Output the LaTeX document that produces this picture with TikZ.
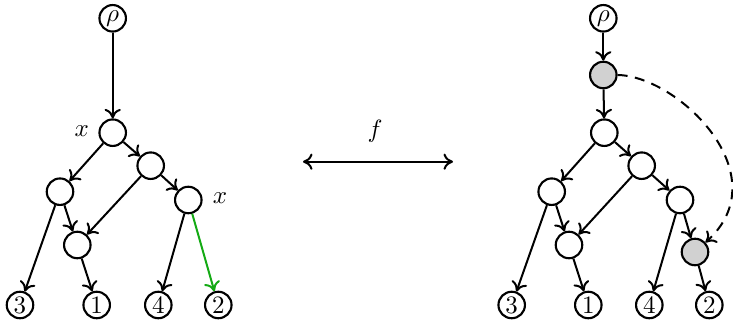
\documentclass[tikz,border=0pt]{standalone}
\usetikzlibrary{arrows.meta}
\definecolor{edgegreen}{RGB}{20,170,20}
\begin{document}
\begin{tikzpicture}[x=0.4pt,y=-0.4pt,
  vtx/.style={circle,draw,line width=0.85pt,minimum size=10.6pt,inner sep=0.5pt,fill=white},
  gvtx/.style={vtx,fill=black!18},
  arr/.style={line width=0.8pt,-{To[length=3.8pt,width=6.5pt]}},
  dbl/.style={line width=0.8pt,{To[length=3.8pt,width=6.5pt]}-{To[length=3.8pt,width=6.5pt]}}]
\useasboundingbox (0,0) rectangle (733,324);
% left tree
\node[vtx] (r) at (112.7,18.3) {$\rho$};
\node[vtx] (a) at (112.7,132.7) {};
\node[vtx] (c) at (150.7,165.7) {};
\node[vtx] (b) at (60,191.7) {};
\node[vtx] (e) at (188.3,200) {};
\node[vtx] (d) at (77.3,245) {};
\node[vtx] (l3) at (20,305) {3};
\node[vtx] (l1) at (96.7,305) {1};
\node[vtx] (l4) at (158.3,305) {4};
\node[vtx] (l2) at (218.3,305) {2};
\node (xa) at (81.7,131) {$x$};
\node (xe) at (220,198.5) {$x$};
\draw[arr] (r) -- (a);
\draw[arr] (a) -- (b);
\draw[arr] (a) -- (c);
\draw[arr] (c) -- (d);
\draw[arr] (c) -- (e);
\draw[arr] (b) -- (l3);
\draw[arr] (b) -- (d);
\draw[arr] (d) -- (l1);
\draw[arr] (e) -- (l4);
\draw[arr,edgegreen] (e) -- (l2);
% middle
\coordinate (m1) at (303,161.7);
\coordinate (m2) at (453,161.7);
\draw[dbl] (m1) -- (m2);
\node (f) at (375,131.7) {$f$};
% right tree
\node[vtx] (R) at (603.3,18.3) {$\rho$};
\node[gvtx] (g1) at (603.3,75) {};
\node[vtx] (A) at (604.3,132.7) {};
\node[vtx] (C) at (641.7,165.7) {};
\node[vtx] (B) at (551.7,191.7) {};
\node[vtx] (E) at (680,200) {};
\node[vtx] (D) at (569,245) {};
\node[gvtx] (g2) at (695,252) {};
\node[vtx] (L3) at (511.7,305) {3};
\node[vtx] (L1) at (588.3,305) {1};
\node[vtx] (L4) at (649.3,305) {4};
\node[vtx] (L2) at (709.3,305) {2};
\draw[arr] (R) -- (g1);
\draw[arr] (g1) -- (A);
\draw[arr] (A) -- (B);
\draw[arr] (A) -- (C);
\draw[arr] (C) -- (D);
\draw[arr] (C) -- (E);
\draw[arr] (B) -- (L3);
\draw[arr] (B) -- (D);
\draw[arr] (D) -- (L1);
\draw[arr] (E) -- (L4);
\draw[arr] (E) -- (g2);
\draw[arr] (g2) -- (L2);
\draw[arr,dashed,dash pattern=on 4pt off 3pt] (g1.east) .. controls (678,76) and (780,175) .. (g2);
\end{tikzpicture}
\end{document}
